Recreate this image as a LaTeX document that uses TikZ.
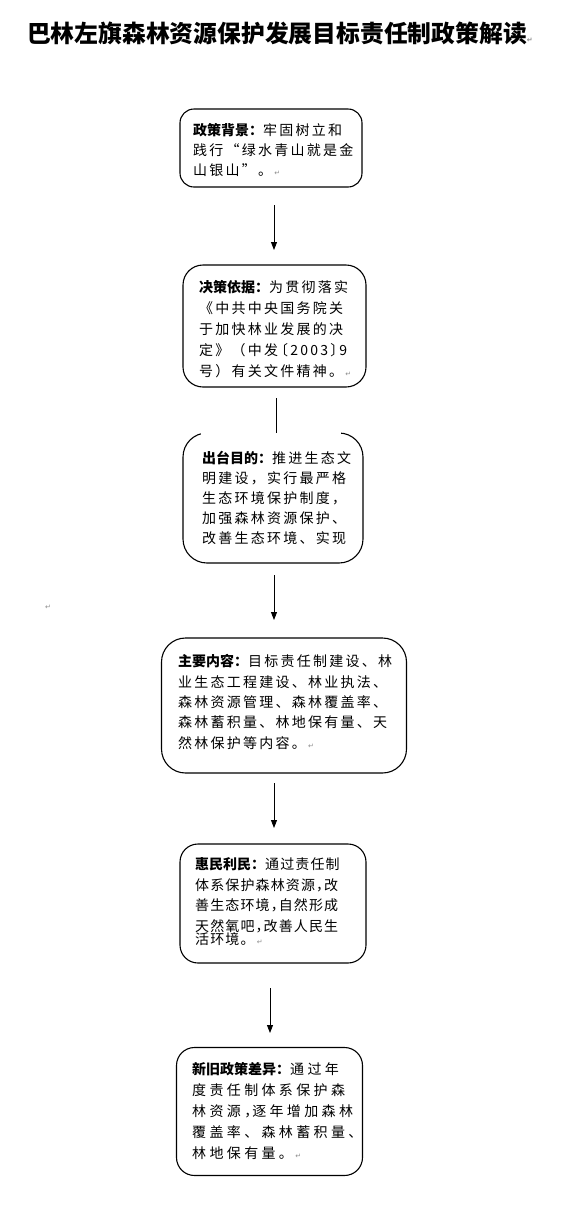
\documentclass[tikz,border=0pt]{standalone}
\usepackage{fontspec}
\usetikzlibrary{arrows.meta}
\setmainfont{Noto Sans CJK SC}
\newfontfamily\bodyfont[LetterSpace=16]{Noto Sans CJK SC}
\newfontfamily\bodyfontn[LetterSpace=8]{Noto Sans CJK SC}
\newfontfamily\bodyfontw[LetterSpace=24]{Noto Sans CJK SC}
\newfontfamily\lblfont{Noto Sans CJK SC}
\newfontfamily\dejavu{DejaVu Sans}
\newcommand\parmark{{\dejavu\fontsize{7}{7}\selectfont\color{black!45}↵}}
\newcommand\lbl[1]{{\lblfont\bfseries #1}}
\newcommand\ncm{，\hspace{-6pt}}
\begin{document}
\begin{tikzpicture}[x=1pt,y=-1pt,
  boxnode/.style={draw=black, line width=1.1pt, inner sep=0pt},
  txt/.style={anchor=north west, align=left, inner sep=0pt, text=black},
  arr/.style={-{Triangle[length=8pt,width=6pt]}, line width=0.9pt},
  plain/.style={line width=0.9pt}]
\fill[white] (0,0) rectangle (564,1224);
\useasboundingbox (0,0) rectangle (564,1224);

% title
\node[font=\lblfont\bfseries\fontsize{23.8}{28}\selectfont, inner sep=0pt] (title) at (277,33) {巴林左旗森林资源保护发展目标责任制政策解读\rlap{\parmark}};

% boxes
\node[boxnode, rounded corners=14pt, minimum width=182pt, minimum height=78pt] (b1) at (271,148) {};
\node[boxnode, rounded corners=20pt, minimum width=183pt, minimum height=122pt] (b2) at (274.5,326) {};
\node[boxnode, rounded corners=24pt, minimum width=180pt, minimum height=130pt] (b3) at (273,498) {};
\fill[white] (201,428) rectangle (341,437);
\node[boxnode, rounded corners=24pt, minimum width=245pt, minimum height=135pt] (b4) at (284,705.5) {};
\node[boxnode, rounded corners=18pt, minimum width=186pt, minimum height=119pt] (b5) at (273,903.5) {};
\node[boxnode, rounded corners=18pt, minimum width=186pt, minimum height=128pt] (b6) at (269.5,1111.5) {};

% texts
\node[txt, font=\bodyfont\fontsize{14}{20}\selectfont] (t1) at (193,123)
 {\lbl{政策背景：}牢固树立和\\践行“绿水青山就是金\\山银山”。\,\parmark};
\node[txt, font=\bodyfont\fontsize{14}{21}\selectfont] (t2) at (199,280.5)
 {\lbl{决策依据：}为贯彻落实\\《中共中央国务院关\\于加快林业发展的决\\定》（中发\hspace{-4pt}〔2003〕\hspace{-5pt}9\\号）有关文件精神。\,\parmark};
\node[txt, font=\bodyfont\fontsize{14}{20}\selectfont] (t3) at (202,450.5)
 {\lbl{出台目的：}推进生态文\\明建设，实行最严格\\生态环境保护制度，\\加强森林资源保护、\\改善生态环境、实现};
\node[txt, font=\bodyfont\fontsize{14}{20.3}\selectfont] (t4) at (178,654.5)
 {\lbl{主要内容：}目标责任制建设、林\\业生态工程建设、林业执法、\\森林资源管理、森林覆盖率、\\森林蓄积量、林地保有量、天\\然林保护等内容。\,\parmark};
\node[txt, font=\bodyfontn\fontsize{14}{20.5}\selectfont] (t5) at (195,857.5)
 {\lbl{惠民利民：}通过责任制\\体系保护森林资源\ncm 改\\善生态环境\ncm 自然形成\\天然氧吧\ncm 改善人民生\\[-7pt]活环境。\,\parmark};
\node[txt, font=\bodyfontw\fontsize{14}{20.8}\selectfont] (t6) at (192,1062.5)
 {\lbl{新旧政策差异：}通过年\\度责任制体系保护森\\林资源\ncm 逐年增加森林\\覆盖率、森林蓄积量、\\林地保有量。\,\parmark};

% stray paragraph mark
\node[inner sep=0pt] (pm) at (48,607) {\parmark};

% connectors
\coordinate (a1s) at (274,205); \coordinate (a1e) at (274,250);
\coordinate (l2s) at (276,398); \coordinate (l2e) at (276,433);
\coordinate (a3s) at (274,575); \coordinate (a3e) at (274,620);
\coordinate (a4s) at (274,783); \coordinate (a4e) at (274,828);
\coordinate (a5s) at (270,988); \coordinate (a5e) at (270,1033);
\draw[arr] (a1s) -- (a1e);
\draw[plain] (l2s) -- (l2e);
\draw[arr] (a3s) -- (a3e);
\draw[arr] (a4s) -- (a4e);
\draw[arr] (a5s) -- (a5e);
\end{tikzpicture}
\end{document}
